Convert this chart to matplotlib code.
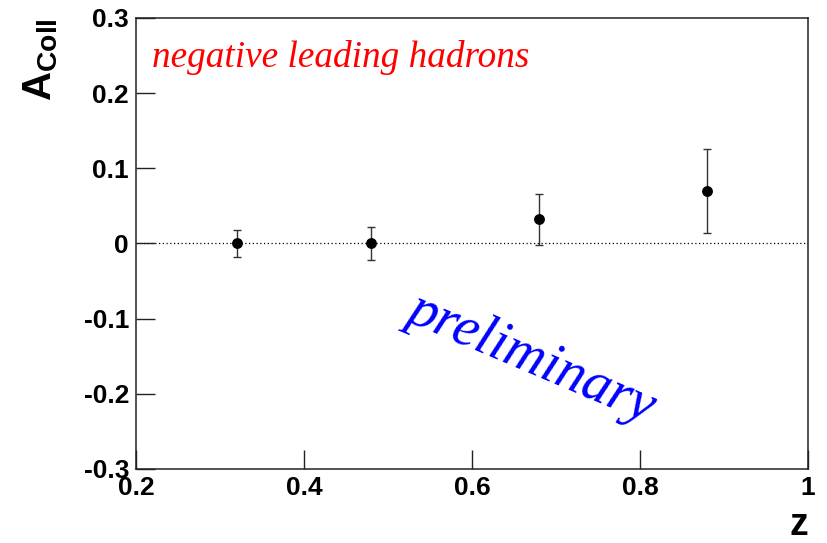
import matplotlib
matplotlib.use("Agg")
import matplotlib.pyplot as plt

# data
z_vals = [0.32, 0.48, 0.68, 0.88]
a_coll = [0.0, 0.0, 0.032, 0.070]
a_err = [0.0175, 0.0225, 0.034, 0.056]

x_ticks = [0.2, 0.4, 0.6, 0.8, 1.0]
x_labels = ["0.2", "0.4", "0.6", "0.8", "1"]
y_ticks = [-0.3, -0.2, -0.1, 0.0, 0.1, 0.2, 0.3]
y_labels = ["-0.3", "-0.2", "-0.1", "0", "0.1", "0.2", "0.3"]

plt.rcParams["mathtext.fontset"] = "custom"
plt.rcParams["mathtext.bf"] = "Liberation Sans:bold"
plt.rcParams["mathtext.rm"] = "Liberation Sans:bold"

fig = plt.figure(figsize=(8.27, 5.43), dpi=100)
ax = fig.add_axes([0.1644, 0.1363, 0.977 - 0.1644, 0.9669 - 0.1363])

# zero line
ax.axhline(0, color="black", lw=0.9, ls=(0, (1, 2)), zorder=1)

# points with error bars
ax.errorbar(z_vals, a_coll, yerr=a_err, fmt="o", color="black", ms=6.8,
            ecolor="#333333", elinewidth=1.0, capsize=3, capthick=1.0, zorder=3)

ax.set_xlim(0.2, 1.0)
ax.set_ylim(-0.3, 0.3)
ax.set_xticks(x_ticks)
ax.set_xticklabels(x_labels)
ax.set_yticks(y_ticks)
ax.set_yticklabels(y_labels)
ax.tick_params(direction="in", length=14, width=1, colors="#222222",
               labelcolor="black", top=False, right=False)
ax.tick_params(axis="x", pad=5)
ax.tick_params(axis="y", pad=5)
for lab in ax.get_xticklabels() + ax.get_yticklabels():
    lab.set_fontfamily("Liberation Sans")
    lab.set_fontweight("bold")
    lab.set_fontsize(19)
for sp in ax.spines.values():
    sp.set_linewidth(1.1)
    sp.set_color("#222222")

# axis titles
fig.text(808 / 827, 1 - 535 / 543, "z", ha="right", va="baseline",
         fontfamily="Liberation Sans", fontweight="bold", fontsize=27)
fig.text(40 / 827, 1 - 18 / 543, r"$\mathbf{A}_{\mathbf{Coll}}$", rotation=90,
         ha="center", va="top", fontsize=29)

# annotations
fig.text(152 / 827, 1 - 67 / 543, "negative leading hadrons", color="red",
         fontfamily="Liberation Serif", fontstyle="italic", fontsize=26.8,
         ha="left", va="baseline")
fig.text(532 / 827, 1 - 358 / 543, "preliminary", color="blue",
         fontfamily="Liberation Serif", fontstyle="italic", fontsize=40.5,
         rotation=-23, ha="center", va="center")

fig.savefig("out.png", dpi=100)
